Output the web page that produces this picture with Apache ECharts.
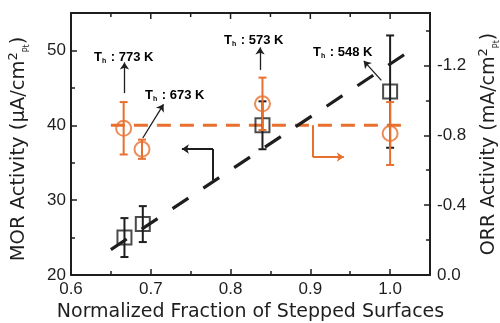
<!DOCTYPE html>
<html><head><meta charset="utf-8">
<script src="https://cdn.jsdelivr.net/npm/echarts/dist/echarts.min.js"></script>
<style>html,body{margin:0;padding:0;background:#fff}#c{width:500px;height:323px}</style>
</head><body><div id="c"></div>
<script>
// ---- data ----
const morX = [0.667, 0.69, 0.84, 1.0];
const morY = [25.0, 26.8, 40.0, 44.5];
const morErr = [2.6, 2.4, 3.2, 7.5];
const orrX = [0.666, 0.689, 0.84, 1.0];
const orrY = [-0.84, -0.72, -0.98, -0.81];
const orrErr = [0.15, 0.055, 0.15, 0.18];
const morFitX = [0.65, 1.02];
const morFitY = [23.4, 49.6];
const orrFitX = [0.65, 1.02];
const orrFitY = [-0.857, -0.857];
const thLabels = ['773 K', '673 K', '573 K', '548 K'];
const xMin = 0.6, xMax = 1.05, xStep = 0.1;
const yMin = 20, yMax = 55;

const BLACK = '#1e1e1e';
const ORANGE = '#E8702F';
const FONT = 'Liberation Sans, Arial, sans-serif';
const TFONT = 'DejaVu Sans, sans-serif';

function errBars(xs, ys, es, conv) {
  return xs.map((x, i) => [x, conv(ys[i] - es[i]), conv(ys[i] + es[i])]);
}
function errRender(color) {
  return function (params, api) {
    const x = api.value(0);
    const p1 = api.coord([x, api.value(1)]);
    const p2 = api.coord([x, api.value(2)]);
    const w = 4;
    const st = { stroke: color, lineWidth: 2 };
    return { type: 'group', children: [
      { type: 'line', shape: { x1: p1[0], y1: p1[1], x2: p2[0], y2: p2[1] }, style: st },
      { type: 'line', shape: { x1: p1[0] - w, y1: p1[1], x2: p1[0] + w, y2: p1[1] }, style: st },
      { type: 'line', shape: { x1: p2[0] - w, y1: p2[1], x2: p2[0] + w, y2: p2[1] }, style: st }
    ]};
  };
}
const neg = v => -v;

const chart = echarts.init(document.getElementById('c'), null, { renderer: 'canvas' });

const axisLine = { show: true, onZero: false, lineStyle: { color: BLACK, width: 2 } };
const tick = { show: true, inside: true, length: 6, lineStyle: { color: BLACK, width: 1.5 } };
const minor = { show: true, splitNumber: 2, length: 4, lineStyle: { color: BLACK, width: 1.5 } };
const lbl = { color: BLACK, fontSize: 17, fontFamily: FONT };

const arrowLine = (a, b, color) => [
  { coord: a, symbol: 'none', lineStyle: { color: color, width: 1.3, type: 'solid' } },
  { coord: b, symbol: 'arrow' }
];
const plainLine = (a, b, color) => [
  { coord: a, symbol: 'none', lineStyle: { color: color, width: 2, type: 'solid' } },
  { coord: b, symbol: 'none' }
];
const arrowLine2 = (a, b, color) => [
  { coord: a, symbol: 'none', lineStyle: { color: color, width: 2, type: 'solid' } },
  { coord: b, symbol: 'arrow' }
];

const labelPos = [[94, 57], [145, 95], [224, 40], [313, 52]];
const richTh = {
  b: { fontSize: 13, fontWeight: 'bold', fontFamily: FONT, color: BLACK, lineHeight: 15 },
  s: { fontSize: 7, fontWeight: 'bold', fontFamily: FONT, color: BLACK, lineHeight: 6, verticalAlign: 'bottom', padding: [0, 1, 0, 0] }
};
const titleRich = (fs) => ({
  t: { fontSize: fs, fontFamily: TFONT, color: BLACK, lineHeight: 24 },
  sup: { fontSize: 13, fontFamily: TFONT, color: BLACK, lineHeight: 13, verticalAlign: 'top' },
  sub: { fontSize: 8, fontFamily: TFONT, color: BLACK, lineHeight: 8, verticalAlign: 'bottom' }
});

const textGraphics = thLabels.map((t, i) => ({
  type: 'text', id: 'th' + i, x: labelPos[i][0], y: labelPos[i][1], z: 100,
  style: { text: '{b|T}{s|h}{b| : ' + t + '}', rich: richTh, verticalAlign: 'middle', align: 'left' }
}));

const option = {
  animation: false,
  backgroundColor: '#fff',
  grid: { left: 71, right: 70, top: 13, bottom: 48, containLabel: false, outerBoundsMode: 'none' },
  xAxis: [
    { type: 'value', min: xMin, max: xMax, interval: xStep, position: 'bottom',
      axisLine: axisLine, axisTick: tick, minorTick: minor, splitLine: { show: false },
      axisLabel: Object.assign({}, lbl, { margin: 6, showMaxLabel: false, formatter: v => v.toFixed(1) }),
      name: 'Normalized Fraction of Stepped Surfaces', nameLocation: 'middle', nameGap: 27,
      nameTextStyle: { color: BLACK, fontSize: 19, fontFamily: TFONT } }
  ],
  yAxis: [
    { type: 'value', min: yMin, max: yMax, interval: 10, position: 'left',
      axisLine: axisLine, axisTick: tick, minorTick: minor, splitLine: { show: false },
      axisLabel: Object.assign({}, lbl, { margin: 5, showMaxLabel: false }),
      name: '{t|MOR Activity (μA/cm}{sup|2}{sub|Pt}{t|)}', nameLocation: 'middle', nameGap: 40, nameRotate: 90,
      nameTextStyle: { rich: titleRich(19.5), padding: [0, 10, 0, 0] } },
    { type: 'value', min: 0, max: 1.5, interval: 0.4, position: 'right',
      axisLine: axisLine, axisTick: tick, minorTick: minor, splitLine: { show: false },
      axisLabel: Object.assign({}, lbl, { margin: 7, showMaxLabel: false,
        formatter: v => v === 0 ? '0.0' : '-' + v.toFixed(1) }),
      name: '{t|ORR Activity (mA/cm}{sup|2}{sub|Pt}{t|)}', nameLocation: 'middle', nameGap: 41, nameRotate: 90,
      nameTextStyle: { rich: titleRich(19) } }
  ],
  series: [
    { type: 'line', xAxisIndex: 0, yAxisIndex: 1, data: orrFitX.map((x, i) => [x, neg(orrFitY[i])]),
      symbol: 'none', lineStyle: { color: ORANGE, width: 3, type: [14, 9] }, z: 2 },
    { type: 'line', xAxisIndex: 0, yAxisIndex: 0, data: morFitX.map((x, i) => [x, morFitY[i]]),
      symbol: 'none', lineStyle: { color: BLACK, width: 3.2, type: [19, 18] }, z: 3,
      markLine: { silent: true, animation: false, label: { show: false }, symbolSize: 7,
        data: [
          arrowLine([0.667, 44.3], [0.667, 48.4], BLACK),
          arrowLine([0.690, 38.3], [0.716, 42.8], BLACK),
          arrowLine([0.837, 47.4], [0.837, 50.4], BLACK),
          arrowLine([0.989, 46.0], [0.967, 48.6], BLACK),
          plainLine([0.778, 32.7], [0.778, 36.83], BLACK),
          arrowLine2([0.778, 36.83], [0.739, 36.83], BLACK),
          plainLine([0.903, 40.0], [0.903, 35.76], ORANGE),
          arrowLine2([0.903, 35.76], [0.942, 35.76], ORANGE)
        ] } },
    { type: 'custom', xAxisIndex: 0, yAxisIndex: 0, renderItem: errRender(BLACK),
      data: errBars(morX, morY, morErr, v => v), z: 4 },
    { type: 'scatter', xAxisIndex: 0, yAxisIndex: 0, data: morX.map((x, i) => [x, morY[i]]),
      symbol: 'rect', symbolSize: 14, itemStyle: { color: 'rgba(0,0,0,0)', borderColor: BLACK, borderWidth: 2 }, z: 5 },
    { type: 'custom', xAxisIndex: 0, yAxisIndex: 1, renderItem: errRender(ORANGE),
      data: errBars(orrX, orrY, orrErr, neg).map(d => [d[0], d[2], d[1]]), z: 6 },
    { type: 'scatter', xAxisIndex: 0, yAxisIndex: 1, data: orrX.map((x, i) => [x, neg(orrY[i])]),
      symbol: 'circle', symbolSize: 15, itemStyle: { color: 'rgba(0,0,0,0)', borderColor: ORANGE, borderWidth: 2 }, z: 7 }
  ],
  graphic: textGraphics
};
chart.setOption(option);

// top frame edge with inward ticks, placed through the axis scales
const finder = { xAxisIndex: 0, yAxisIndex: 0 };
const pL = chart.convertToPixel(finder, [xMin, yMax]);
const pR = chart.convertToPixel(finder, [xMax, yMax]);
const frame = [{ type: 'line', id: 'topEdge', z: 110,
  shape: { x1: pL[0] - 1, y1: pL[1], x2: pR[0] + 1, y2: pR[1] },
  style: { stroke: BLACK, lineWidth: 2 } }];
const nSub = Math.round((xMax - xMin) / (xStep / 2));
for (let k = 1; k < nSub; k++) {
  const v = xMin + k * xStep / 2;
  const p = chart.convertToPixel(finder, [v, yMax]);
  const len = (k % 2 === 0) ? 6 : 4;
  frame.push({ type: 'line', id: 'tt' + k, z: 110,
    shape: { x1: p[0], y1: p[1], x2: p[0], y2: p[1] + len },
    style: { stroke: BLACK, lineWidth: 1.5 } });
}
chart.setOption({ graphic: textGraphics.concat(frame) });
</script></body></html>
